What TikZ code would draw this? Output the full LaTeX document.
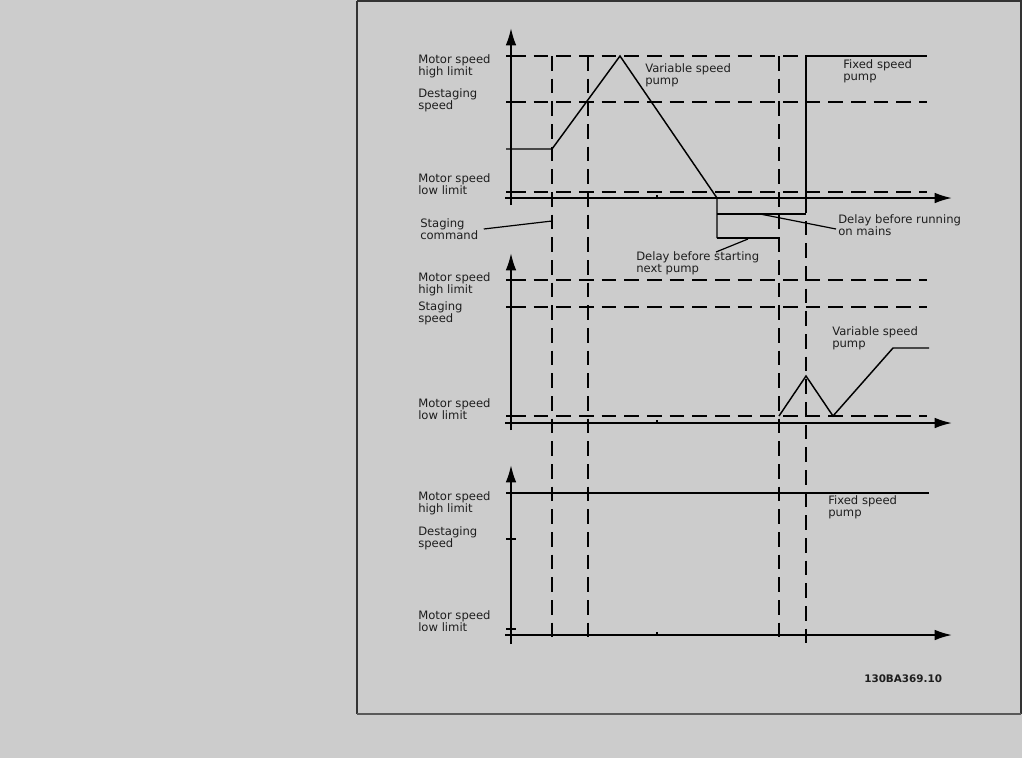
\documentclass[tikz,border=0pt]{standalone}
\usepackage{fontspec}
\setmainfont{DejaVu Sans}
\usetikzlibrary{arrows.meta}
\definecolor{bgcol}{HTML}{CCCCCC}
\definecolor{framecol}{HTML}{333333}
\definecolor{txtcol}{HTML}{1E1E1E}
\begin{document}
\begin{tikzpicture}[x=0.75pt,y=-0.75pt,
  axis/.style={line width=1.4pt,-{Latex[length=13pt,width=8pt]}},
  dashln/.style={line width=1.35pt,dash pattern=on 11pt off 6pt},
  solidln/.style={line width=1.1pt},
  tickln/.style={line width=1pt},
  leader/.style={line width=0.9pt},
  lbl/.style={font=\fontsize{8.7}{9}\selectfont,align=left,anchor=west,inner sep=0pt,text=txtcol}]
\fill[bgcol] (0,0) rectangle (1022,758);
\useasboundingbox (0,0) rectangle (1022,758);
\draw[framecol,line width=1.3pt] (357,1) -- (1021,1) -- (1021,714);
\draw[framecol,line width=1.3pt] (357,1) -- (357,714);
\draw[black!65,line width=2pt] (357,714) -- (1021,714);

% ---------- vertical dashed time markers ----------
\draw[dashln] (552,56) -- (552,644);
\draw[dashln] (588,56) -- (588,644);
\draw[dashln] (779,56) -- (779,644);
\draw[dashln] (806,198) -- (806,644);

% ---------- panel 1 ----------
\draw[dashln] (511,56) -- (927,56);
\draw[dashln] (511,102) -- (927,102);
\draw[dashln] (511,192) -- (927,192);
\draw[axis] (511,205) -- (511,28);
\draw[axis] (505,198) -- (952,198);
\foreach \yy in {56,102,192} \draw[tickln] (506,\yy) -- (516,\yy);
\draw[tickln] (657,198) -- (657,195);
\draw[solidln] (506,149) -- (552,149) -- (620,56) -- (717,198) -- (717,238);
\draw[solidln] (717,214) -- (806,214);
\draw[solidln] (717,238) -- (779,238);
\draw[solidln] (806,198) -- (806,56) -- (927,56);

% ---------- panel 2 ----------
\draw[dashln] (511,280) -- (927,280);
\draw[dashln] (511,307) -- (927,307);
\draw[dashln] (511,416) -- (927,416);
\draw[axis] (511,430) -- (511,253);
\draw[axis] (505,423) -- (952,423);
\foreach \yy in {280,307,416} \draw[tickln] (506,\yy) -- (516,\yy);
\draw[tickln] (657,423) -- (657,420);
\draw[solidln] (779,416) -- (806,376) -- (833,416) -- (893,348) -- (929,348);

% ---------- panel 3 ----------
\draw[axis] (511,644) -- (511,465);
\draw[axis] (505,635) -- (952,635);
\draw[solidln] (506,493) -- (929,493);
\foreach \yy in {539,629} \draw[tickln] (506,\yy) -- (516,\yy);
\draw[tickln] (657,635) -- (657,632);

% ---------- labels ----------
\node[lbl] (p1hi) at (418,66) {Motor speed\\high limit};
\node[lbl] (p1ds) at (418,100) {Destaging\\speed};
\node[lbl] (p1lo) at (418,184) {Motor speed\\low limit};
\node[lbl] (stg) at (420,229) {Staging\\command};
\node[lbl] (p2hi) at (418,284) {Motor speed\\high limit};
\node[lbl] (p2ss) at (418,313) {Staging\\speed};
\node[lbl] (p2lo) at (418,409) {Motor speed\\low limit};
\node[lbl] (p3hi) at (418,503) {Motor speed\\high limit};
\node[lbl] (p3ds) at (418,538) {Destaging\\speed};
\node[lbl] (p3lo) at (418,621) {Motor speed\\low limit};
\node[lbl] (vsp1) at (645,75) {Variable speed\\pump};
\node[lbl] (fsp1) at (843,71) {Fixed speed\\pump};
\node[lbl] (dlm) at (838,225) {Delay before running\\on mains};
\node[lbl] (dsn) at (636,263) {Delay before starting\\next pump};
\node[lbl] (vsp2) at (832,338) {Variable speed\\pump};
\node[lbl] (fsp3) at (828,507) {Fixed speed\\pump};
\node[lbl,font=\bfseries\fontsize{7.8}{9}\selectfont] (code) at (864,679) {130BA369.10};

% ---------- leaders ----------
\coordinate (stgT) at (552,221);
\coordinate (dlmS) at (760,214);
\coordinate (dlmT) at (836,229);
\coordinate (dsnS) at (748,239);
\coordinate (dsnT) at (716,252);
\draw[leader] ([xshift=4pt]stg.east) -- (stgT);
\draw[leader] (dlmS) -- (dlmT);
\draw[leader] (dsnS) -- (dsnT);
\end{tikzpicture}
\end{document}
